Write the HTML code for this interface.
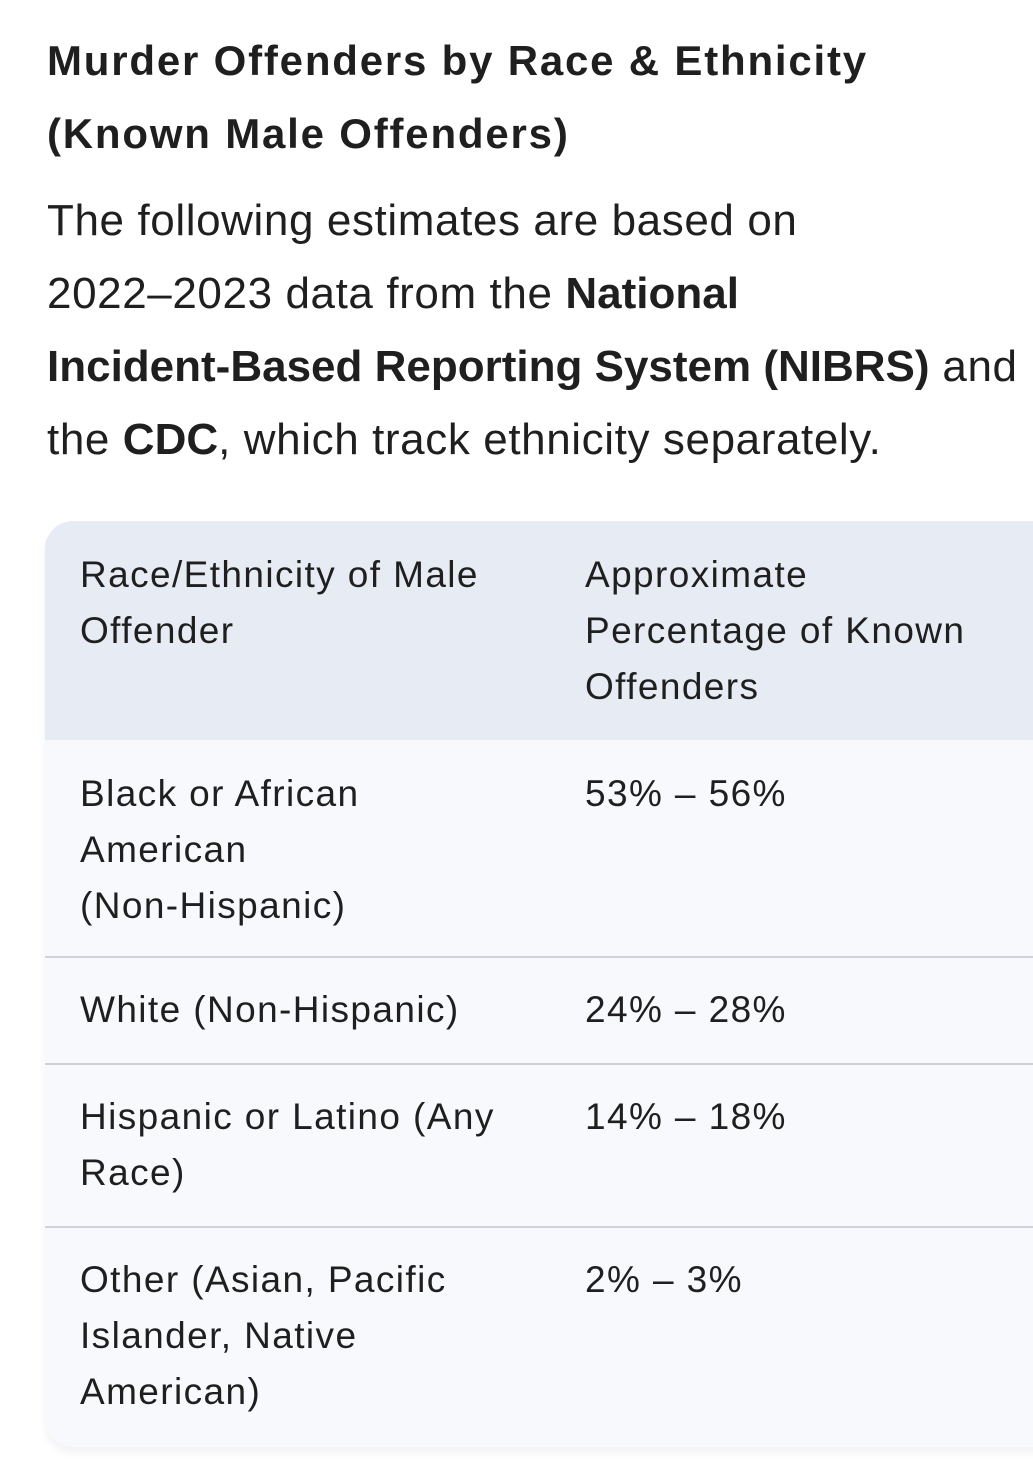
<!DOCTYPE html>
<html><head><meta charset="utf-8"><style>
html,body{margin:0;padding:0;background:#fff;width:1033px;height:1468px;overflow:hidden;font-family:"Liberation Sans",sans-serif;color:#1f1f1f}
h1{position:absolute;left:47px;top:24px;margin:0;font-size:42px;line-height:73px;font-weight:bold;width:1000px;letter-spacing:1.8px;white-space:nowrap}
p{position:absolute;left:47px;top:184px;margin:0;font-size:44px;line-height:73px;width:1100px;letter-spacing:0.6px;white-space:nowrap}
p b{letter-spacing:0}
.t{position:absolute;left:45px;top:521px;width:1020px;height:926px;background:#f8f9fc;border-radius:28px;overflow:hidden;box-shadow:0 6px 8px rgba(0,0,0,0.05)}
.r{position:absolute;left:0;width:100%;font-size:37px;line-height:56px;letter-spacing:1.4px;white-space:nowrap}
.r div{position:absolute;top:26px}
.c1{left:35px;width:440px}.c2{left:540px;width:440px}
.h{background:#e7ecf4;top:0;height:219px}
.b{border-top:2px solid #cfd2d6}
</style></head><body>
<h1>Murder Offenders by Race &amp; Ethnicity<br>(Known Male Offenders)</h1>
<p>The following estimates are based on<br>2022–2023 data from the <b>National</b><br><b>Incident-Based Reporting System (NIBRS)</b> and<br>the <b>CDC</b>, which track ethnicity separately.</p>
<div class="t">
<div class="r h"><div class="c1">Race/Ethnicity of Male<br>Offender</div><div class="c2">Approximate<br>Percentage of Known<br>Offenders</div></div>
<div class="r" style="top:219px;height:217px"><div class="c1">Black or African<br>American<br>(Non-Hispanic)</div><div class="c2">53% – 56%</div></div>
<div class="r b" style="top:435px;height:106px"><div class="c1" style="top:24px">White (Non-Hispanic)</div><div class="c2" style="top:24px">24% – 28%</div></div>
<div class="r b" style="top:542px;height:162px"><div class="c1" style="top:24px">Hispanic or Latino (Any<br>Race)</div><div class="c2" style="top:24px">14% – 18%</div></div>
<div class="r b" style="top:705px;height:221px"><div class="c1" style="top:24px">Other (Asian, Pacific<br>Islander, Native<br>American)</div><div class="c2" style="top:24px">2% – 3%</div></div>
</div>
</body></html>
